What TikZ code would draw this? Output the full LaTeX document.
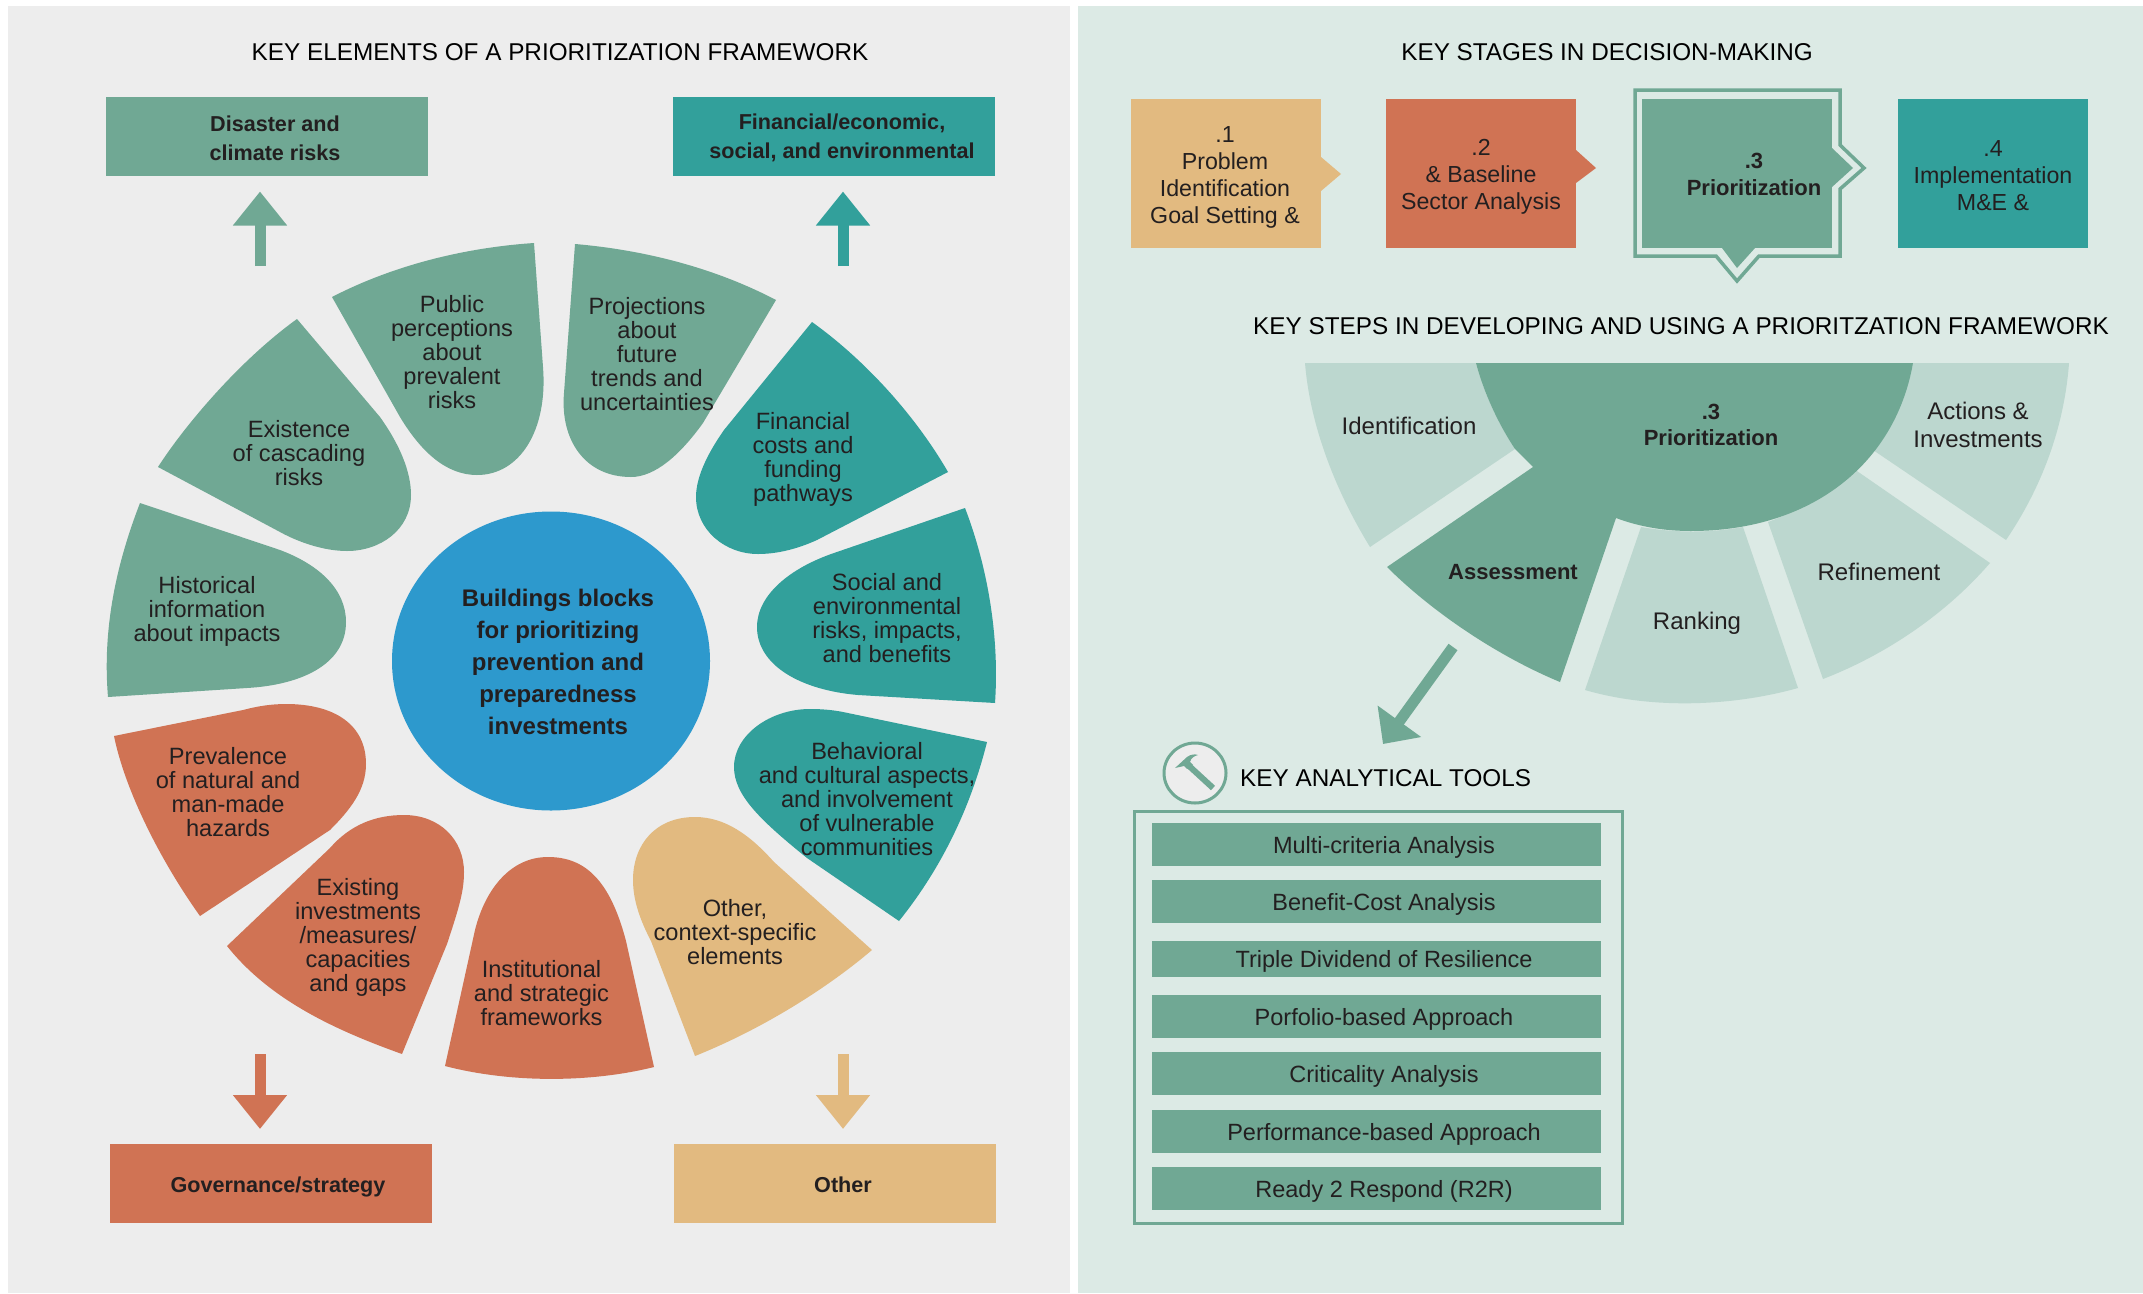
\documentclass[tikz,border=0pt]{standalone}
\usepackage{fontspec}
\setmainfont{Liberation Sans}
\usepackage{tikz}
\usetikzlibrary{%
  shapes,%
  arrows.meta,%
  positioning%
}
\definecolor{sagegreen}{HTML}{70A894}
\definecolor{palegreen}{HTML}{BCD7CF}
\definecolor{mistgreen}{HTML}{DCEAE5}
\definecolor{tealgreen}{HTML}{32A09B}
\definecolor{clayred}{HTML}{D07354}
\definecolor{sandtan}{HTML}{E2BA80}
\definecolor{hubblue}{HTML}{2D99CD}
\definecolor{panelgrey}{HTML}{EDEDED}
\definecolor{inkblack}{HTML}{231F20}

\begin{document}
\begin{tikzpicture}[
    x=1pt, y=-1pt,
    heading/.style={inner sep=0pt, text=black, font=\fontsize{24.3}{28}\selectfont},
    petaltext/.style={inner sep=0pt, align=center, text=inkblack, font=\fontsize{23.6}{24}\selectfont},
    hubtext/.style={inner sep=0pt, align=center, text=inkblack, font=\bfseries\fontsize{24}{32}\selectfont},
    keybox/.style={inner sep=0pt, outer sep=0pt, minimum width=322pt, minimum height=79pt},
    keylabel/.style={inner sep=0pt, align=center, text=inkblack, font=\bfseries\fontsize{21.6}{29}\selectfont},
    stagebox/.style={inner sep=0pt, outer sep=0pt, minimum width=190pt, minimum height=149pt},
    stagelabel/.style={inner sep=0pt, align=center, text=inkblack, font=\fontsize{23.2}{27}\selectfont},
    fantext/.style={inner sep=0pt, align=center, text=inkblack, font=\fontsize{24}{28}\selectfont},
    fanbold/.style={fantext, font=\bfseries\fontsize{22}{26}\selectfont},
    toolbar/.style={fill=sagegreen, inner sep=0pt, outer sep=0pt, minimum width=449pt, minimum height=43pt,
        text=inkblack, text height=21pt, text depth=3.6pt, font=\fontsize{23.5}{26}\selectfont,
        execute at begin node={\hspace*{15pt}}},
    keyarrow/.style={line width=11pt, -{Triangle[length=34pt,width=52pt]}}
]
    \useasboundingbox (0,0) rectangle (2143,1293);
    \fill[white] (0,0) rectangle (2143,1293);
    \fill[panelgrey] (8,6) rectangle (1070,1293);
    \fill[mistgreen] (1078,6) rectangle (2143,1293);

    \node[heading] (elementstitle) at (560,52.5) {KEY ELEMENTS OF A PRIORITIZATION FRAMEWORK};
    \node[heading] (stagestitle) at (1607,52.5) {KEY STAGES IN DECISION-MAKING};
    \node[heading] (stepstitle) at (1681,326.5) {KEY STEPS IN DEVELOPING AND USING A PRIORITZATION FRAMEWORK};

    \node[keybox, fill=sagegreen] (disaster) at (267,136) {};
    \node[keylabel] (disastertext) at (275,138) {Disaster and\\climate risks};
    \node[keybox, fill=tealgreen] (financial) at (833.5,136) {};
    \node[keylabel] (financialtext) at (842,138) {Financial/economic,\\social, and environmental};
    \node[keybox, fill=clayred] (governance) at (271,1183.5) {};
    \node[keylabel] (governancetext) at (278,1187) {Governance/strategy};
    \node[keybox, fill=sandtan] (other) at (835,1183.5) {};
    \node[keylabel] (othertext) at (843,1185) {Other};

    \coordinate (disasterfoot) at (260,266);
    \coordinate (financialfoot) at (843,266);
    \coordinate (governancefoot) at (260,1054);
    \coordinate (otherfoot) at (843,1054);
    \draw[keyarrow, sagegreen, shorten >=16pt] (disasterfoot) -- (disasterfoot |- disaster.south);
    \draw[keyarrow, tealgreen, shorten >=16pt] (financialfoot) -- (financialfoot |- financial.south);
    \draw[keyarrow, clayred, shorten >=15pt] (governancefoot) -- (governancefoot |- governance.north);
    \draw[keyarrow, sandtan, shorten >=15pt] (otherfoot) -- (otherfoot |- other.north);

    \fill[sagegreen] (140,503) -- (280,550) .. controls (320,565) and (346,590) .. (346,622)
        .. controls (346,665) and (300,685) .. (247,688) -- (108,697)
        .. controls (102,625) and (118,560) .. (140,503) -- cycle;
    \fill[sagegreen] (297,319) -- (380,417) .. controls (400,445) and (411,472) .. (411,495)
        .. controls (411,530) and (380,551) .. (347,551) .. controls (325,551) and (300,543) .. (280,532)
        -- (158,467) .. controls (185,425) and (240,360) .. (297,319) -- cycle;
    \fill[sagegreen] (332,297) .. controls (390,267) and (460,248) .. (534,243) -- (543,367)
        .. controls (548,430) and (520,475) .. (477,475) .. controls (445,475) and (420,450) .. (400,417) -- cycle;
    \fill[sagegreen] (575,244) .. controls (645,250) and (715,268) .. (776,300) -- (703,423)
        .. controls (680,455) and (655,477) .. (631,477) .. controls (585,477) and (560,440) .. (564,393) -- cycle;
    \fill[tealgreen] (812,322) .. controls (865,360) and (915,415) .. (948,472) -- (817,540)
        .. controls (795,550) and (775,554) .. (758,554) .. controls (725,554) and (696,530) .. (696,497)
        .. controls (696,475) and (710,450) .. (724,430) -- cycle;
    \fill[tealgreen] (965,508) .. controls (985,560) and (1000,630) .. (995,703) -- (858,695)
        .. controls (800,690) and (757,665) .. (757,627) .. controls (757,595) and (790,568) .. (834,553) -- cycle;
    \fill[tealgreen] (987,742) .. controls (970,810) and (940,870) .. (899,921) -- (807,858)
        .. controls (760,820) and (734,795) .. (734,767) .. controls (734,735) and (770,709) .. (810,709)
        .. controls (822,709) and (833,710) .. (843,712) -- cycle;
    \fill[sandtan] (695,1056) .. controls (760,1030) and (825,990) .. (872,950) -- (774,862)
        .. controls (750,835) and (725,817) .. (695,817) .. controls (655,817) and (633,845) .. (633,880)
        .. controls (633,900) and (640,920) .. (651,941) -- cycle;
    \fill[clayred] (445,1066) .. controls (510,1083) and (590,1083) .. (654,1067) -- (626,941)
        .. controls (610,880) and (585,857) .. (548,857) .. controls (510,857) and (485,890) .. (475,930) -- cycle;
    \fill[clayred] (227,946) .. controls (270,1000) and (335,1030) .. (402,1054) -- (447,944)
        .. controls (460,905) and (464,890) .. (464,872) .. controls (464,840) and (440,815) .. (404,815)
        .. controls (375,815) and (350,825) .. (330,848) -- cycle;
    \fill[clayred] (114,736) -- (243,710) .. controls (258,706) and (272,704) .. (286,704)
        .. controls (335,704) and (366,725) .. (366,764) .. controls (366,790) and (350,810) .. (330,830)
        -- (200,916) .. controls (160,860) and (125,790) .. (114,736) -- cycle;

    \node[ellipse, fill=hubblue, inner sep=0pt, minimum width=318pt, minimum height=299pt] (hub) at (551,661) {};
    \node[hubtext] (hubtext) at (558,662) {Buildings blocks\\for prioritizing\\prevention and\\preparedness\\investments};

    \node[petaltext] (historical) at (207,611) {Historical\\information\\about impacts};
    \node[petaltext] (cascading) at (299,453) {Existence\\of cascading\\risks};
    \node[petaltext] (perceptions) at (452,352) {Public\\perceptions\\about\\prevalent\\risks};
    \node[petaltext] (projections) at (647,354) {Projections\\about\\future\\trends and\\uncertainties};
    \node[petaltext] (costs) at (803,459.5) {Financial\\costs and\\funding\\pathways};
    \node[petaltext] (social) at (887,618) {Social and\\environmental\\risks, impacts,\\and benefits};
    \node[petaltext] (behavioral) at (867,799) {Behavioral\\and cultural aspects,\\and involvement\\of vulnerable\\communities};
    \node[petaltext] (context) at (735,932) {Other,\\context-specific\\elements};
    \node[petaltext] (institutional) at (541.5,993) {Institutional\\and strategic\\frameworks};
    \node[petaltext] (existing) at (358,937.5) {Existing\\investments\\/measures/\\capacities\\and gaps};
    \node[petaltext] (prevalence) at (228,792) {Prevalence\\of natural and\\man-made\\hazards};

    \draw[sagegreen, line width=3.5pt] (1635,90) -- (1840,90) -- (1840,145) -- (1864,168) -- (1840,189)
        -- (1840,256) -- (1759,256) -- (1737,281) -- (1716,256) -- (1635,256) -- cycle;
    \node[stagebox, fill=sandtan] (stageone) at (1226,173.5) {};
    \fill[sandtan] (1321,157) -- (1341,174) -- (1321,191) -- cycle;
    \node[stagelabel] (stageonetext) at (1225,177) {.1\\Problem\\Identification\\Goal Setting \&};
    \node[stagebox, fill=clayred] (stagetwo) at (1481,173.5) {};
    \fill[clayred] (1576,150) -- (1596,168) -- (1576,183) -- cycle;
    \node[stagelabel] (stagetwotext) at (1481,177) {.2\\\& Baseline\\Sector Analysis};
    \node[stagebox, fill=sagegreen] (stagethree) at (1737,173.5) {};
    \fill[sagegreen] (1832,148) -- (1853,168) -- (1832,187) -- cycle;
    \fill[sagegreen] (1722,248) -- (1737,268) -- (1755,248) -- cycle;
    \node[stagelabel, font=\bfseries\fontsize{22}{27}\selectfont] (stagethreetext) at (1754,174.5) {.3\\Prioritization};
    \node[stagebox, fill=tealgreen] (stagefour) at (1993,173.5) {};
    \node[stagelabel] (stagefourtext) at (1993,176) {.4\\Implementation\\M\&E \&};

    \fill[palegreen] (1305,363) -- (1476,363) .. controls (1483,390) and (1497,422) .. (1515,449) -- (1370,547)
        .. controls (1335,490) and (1310,425) .. (1305,363) -- cycle;
    \fill[palegreen] (1913,363) -- (2069,363) .. controls (2064,430) and (2040,490) .. (2006,540) -- (1873,450)
        .. controls (1893,423) and (1907,395) .. (1913,363) -- cycle;
    \fill[palegreen] (1854,469) -- (1990,563) .. controls (1945,615) and (1885,655) .. (1823,679) -- (1768,522)
        .. controls (1800,510) and (1830,492) .. (1854,469) -- cycle;
    \fill[palegreen] (1641,527) .. controls (1675,533) and (1710,533) .. (1743,527) -- (1798,688)
        .. controls (1730,707) and (1650,709) .. (1585,690) -- cycle;
    \fill[sagegreen] (1476,363) -- (1913,363) .. controls (1895,465) and (1810,531) .. (1691,531)
        .. controls (1665,531) and (1640,527) .. (1616,518) -- (1560,682)
        .. controls (1495,655) and (1430,610) .. (1387,567) -- (1533,467) -- (1515,449)
        .. controls (1497,422) and (1483,390) .. (1476,363) -- cycle;

    \node[fantext] (identification) at (1409,426) {Identification};
    \node[fantext] (investments) at (1978,425) {Actions \&\\Investments};
    \node[fantext] (refinement) at (1879,572) {Refinement};
    \node[fantext] (ranking) at (1697,623) {Ranking};
    \node[fanbold] (assessment) at (1513,572) {Assessment};
    \node[fanbold] (prioritization) at (1711,425) {.3\\Prioritization};

    \coordinate (assessfoot) at (1453,647);
    \coordinate (toolstip) at (1383,744);
    \draw[sagegreen, line width=11pt, -{Triangle[length=28pt,width=52pt]}] (assessfoot) -- (toolstip);

    \node[ellipse, draw=sagegreen, fill=panelgrey, line width=3pt, inner sep=0pt, minimum width=62pt, minimum height=60pt] (hammerring) at (1195,773) {};
    \fill[sagegreen] (1175,768) -- (1187,757) .. controls (1191,754) and (1195,754) .. (1198,755)
        .. controls (1194,756) and (1191,758) .. (1190,762) -- (1193,765) -- (1187,769) -- (1184,766) -- cycle;
    \draw[sagegreen, line width=6pt] (1188,765) -- (1213,788);
    \node[heading, anchor=west] (toolstitle) at (1240,778) {KEY ANALYTICAL TOOLS};

    \node[draw=sagegreen, line width=3pt, inner sep=0pt, minimum width=488pt, minimum height=412pt] (toolframe) at (1378,1017) {};
    \node[toolbar] (multicriteria) at (1376.5,844.5) {Multi-criteria Analysis};
    \node[toolbar, below=14pt of multicriteria] (benefitcost) {Benefit-Cost Analysis};
    \node[toolbar, below=18pt of benefitcost, minimum height=36pt] (tripledividend) {Triple Dividend of Resilience};
    \node[toolbar, below=18pt of tripledividend] (portfolio) {Porfolio-based Approach};
    \node[toolbar, below=14pt of portfolio] (criticality) {Criticality Analysis};
    \node[toolbar, below=15pt of criticality] (performance) {Performance-based Approach};
    \node[toolbar, below=14pt of performance] (readyrespond) {Ready 2 Respond (R2R)};
\end{tikzpicture}
\end{document}
